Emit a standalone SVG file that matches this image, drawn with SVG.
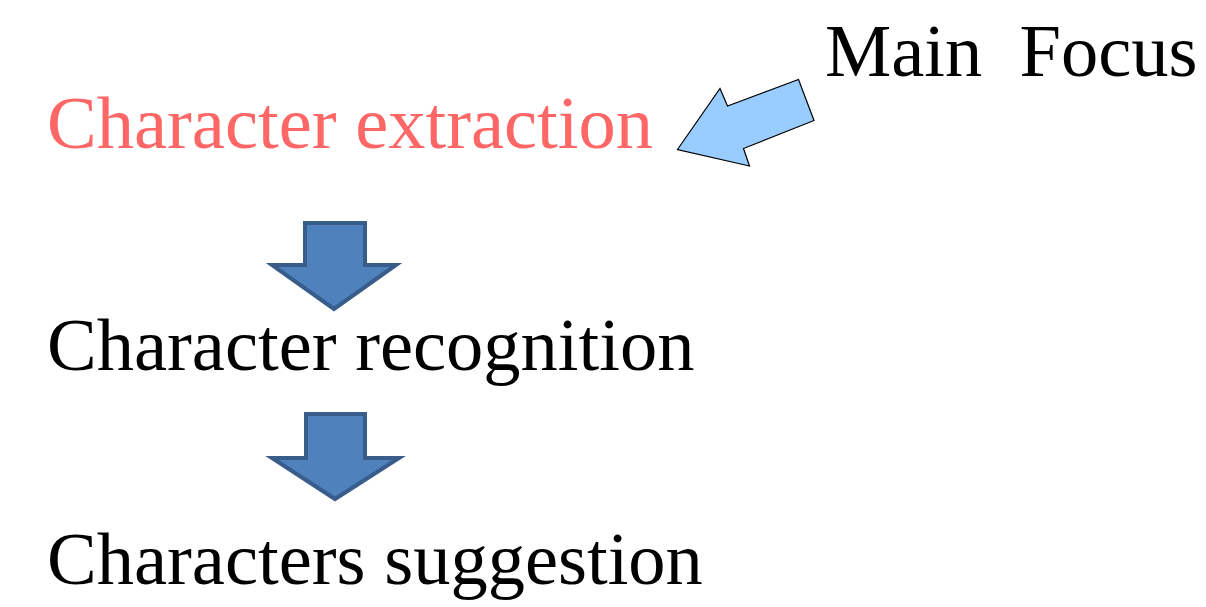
<svg xmlns="http://www.w3.org/2000/svg" width="1206" height="607" viewBox="0 0 1206 607">
  <style>
    text { font-family: "Liberation Serif", "Times New Roman", serif; font-size: 74.5px; fill: #000000; }
    .focus { fill: #ff6666; }
    .step { fill: #4f81bd; stroke: #385d8a; stroke-width: 4; stroke-linejoin: miter; }
    .pointer { fill: #99ccff; stroke: #000000; stroke-width: 1.2; stroke-linejoin: miter; }
  </style>
  <rect width="1206" height="607" fill="#ffffff"/>

  <g id="main-focus">
    <text x="825" y="76" xml:space="preserve">Main  Focus</text>
  </g>

  <g id="character-extraction">
    <text class="focus" x="47" y="148">Character extraction</text>
  </g>

  <g id="character-recognition">
    <text x="47" y="370">Character recognition</text>
  </g>

  <g id="characters-suggestion">
    <text x="47" y="584">Characters suggestion</text>
  </g>

  <g id="connectors">
    <!-- block arrow pointing at the highlighted step -->
    <path class="pointer" d="M677.5,149.5 L720,88.5 L727.5,106 L798.5,79.5 L814,120.5 L743.5,148.5 L749.5,166 Z"/>
    <!-- downward block arrows between the steps -->
    <path class="step" d="M305,223 L365,223 L365,265 L396,265 L334,309 L272,265 L305,265 Z"/>
    <path class="step" d="M306,414 L365,414 L365,458 L399,458 L335,499 L272,458 L306,458 Z"/>
  </g>
</svg>
